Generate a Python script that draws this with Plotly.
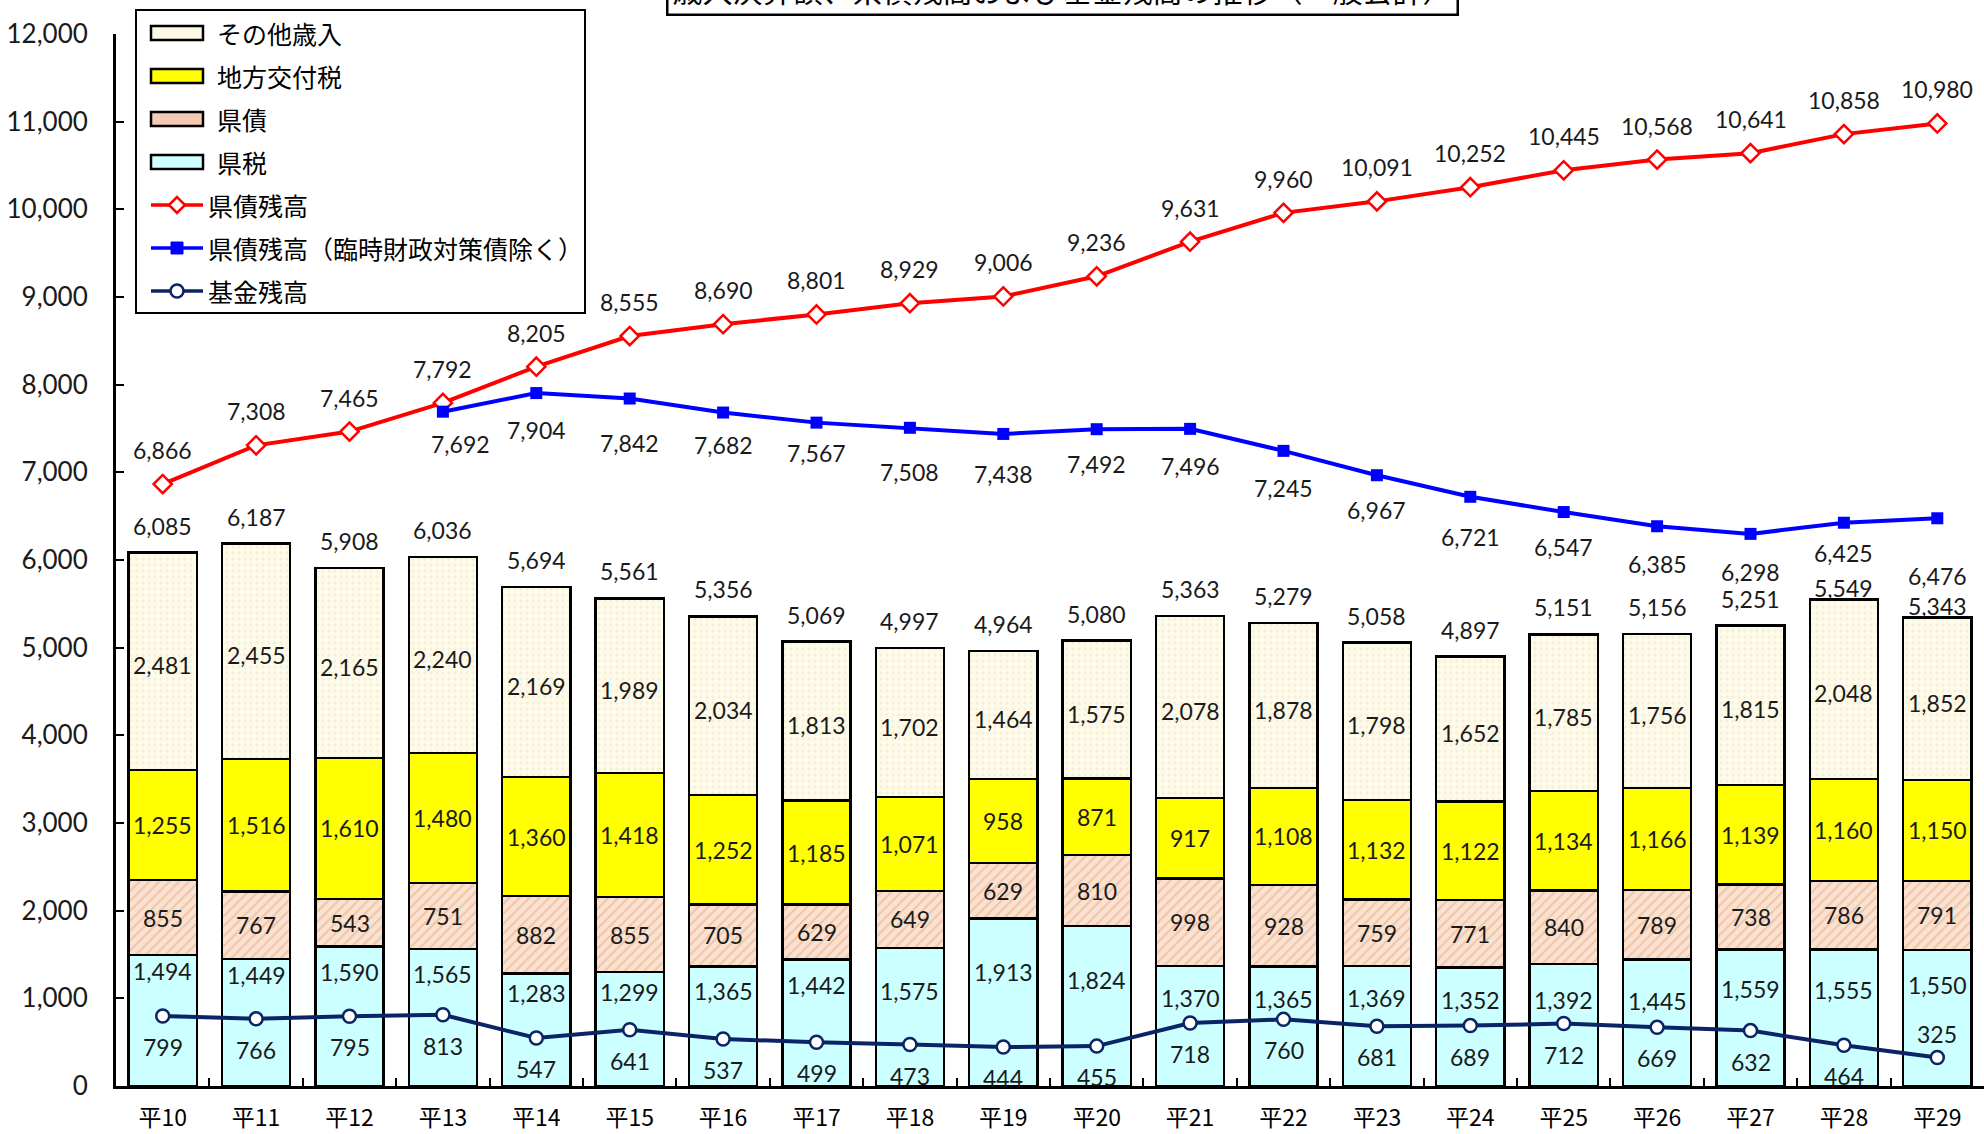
import plotly.graph_objects as go

# 年度
years = ["平10", "平11", "平12", "平13", "平14", "平15", "平16", "平17", "平18", "平19",
         "平20", "平21", "平22", "平23", "平24", "平25", "平26", "平27", "平28", "平29"]

# 歳入決算額の内訳（億円）
kenzei = [1494, 1449, 1590, 1565, 1283, 1299, 1365, 1442, 1575, 1913,
          1824, 1370, 1365, 1369, 1352, 1392, 1445, 1559, 1555, 1550]
kensai = [855, 767, 543, 751, 882, 855, 705, 629, 649, 629,
          810, 998, 928, 759, 771, 840, 789, 738, 786, 791]
koufuzei = [1255, 1516, 1610, 1480, 1360, 1418, 1252, 1185, 1071, 958,
            871, 917, 1108, 1132, 1122, 1134, 1166, 1139, 1160, 1150]
sonota = [2481, 2455, 2165, 2240, 2169, 1989, 2034, 1813, 1702, 1464,
          1575, 2078, 1878, 1798, 1652, 1785, 1756, 1815, 2048, 1852]

# 県債残高
debt = [6866, 7308, 7465, 7792, 8205, 8555, 8690, 8801, 8929, 9006,
        9236, 9631, 9960, 10091, 10252, 10445, 10568, 10641, 10858, 10980]
# 県債残高（臨時財政対策債除く）: 平13〜
debt_ex_years = years[3:]
debt_ex = [7692, 7904, 7842, 7682, 7567, 7508, 7438, 7492, 7496, 7245,
           6967, 6721, 6547, 6385, 6298, 6425, 6476]
# 基金残高
fund = [799, 766, 795, 813, 547, 641, 537, 499, 473, 444,
        455, 718, 760, 681, 689, 712, 669, 632, 464, 325]

# label offsets (px) below the blue markers
debt_ex_label_dy = [32, 37, 44, 32, 30, 44, 40, 35, 37, 37, 35, 40, 35, 38, 38, 30, 58]
# label offsets (px) below the top of the 県税 segment
kenzei_label_dy = [16, 16, 25, 25, 19, 20, 25, 25, 43, 54,
                   54, 32, 33, 32, 33, 36, 42, 40, 40, 35]
# label offsets (px) above the stacked totals
total_label_dy = [27, 27, 27, 27, 27, 27, 27, 27, 27, 27,
                  27, 27, 27, 27, 27, 27, 27, 27, 12, 12]

NUM_FONT = "Lato"
JP_FONT = "Noto Sans CJK JP"
W, H = 1984, 1134
L, R, T, B = 116, 0, 34, 48
PW, PH = W - L - R, H - T - B


def px(x):
    return (x - L) / PW


def py(y):
    return (H - B - y) / PH


fig = go.Figure()

bar_line = dict(color="black", width=2.5)
fig.add_trace(go.Bar(x=years, y=kenzei, name="県税",
                     marker=dict(color="#ccffff", line=bar_line)))
fig.add_trace(go.Bar(x=years, y=kensai, name="県債",
                     marker=dict(color="#fbe2d0", line=bar_line,
                                 pattern=dict(shape="/", fgcolor="#e2a783", bgcolor="#fbe2d0",
                                              size=7, solidity=0.3))))
fig.add_trace(go.Bar(x=years, y=koufuzei, name="地方交付税",
                     marker=dict(color="#ffff00", line=bar_line)))
fig.add_trace(go.Bar(x=years, y=sonota, name="その他歳入",
                     marker=dict(color="#fefbea", line=bar_line,
                                 pattern=dict(shape=".", fgcolor="#efe6c6", bgcolor="#fefbea",
                                              size=6, solidity=0.25))))

fig.add_trace(go.Scatter(x=years, y=debt, name="県債残高", mode="lines+markers",
                         line=dict(color="#ff0000", width=4),
                         marker=dict(symbol="diamond", size=14, color="white",
                                     line=dict(color="#ff0000", width=2.5))))
fig.add_trace(go.Scatter(x=debt_ex_years, y=debt_ex, name="県債残高（臨時財政対策債除く）",
                         mode="lines+markers",
                         line=dict(color="#0000ff", width=4),
                         marker=dict(symbol="square", size=12, color="#0000ff")))
fig.add_trace(go.Scatter(x=years, y=fund, name="基金残高", mode="lines+markers",
                         line=dict(color="#0b2465", width=4),
                         marker=dict(symbol="circle", size=13, color="white",
                                     line=dict(color="#0b2465", width=2.5))))

ann = []
lab_font = dict(family=NUM_FONT, size=23, color="#1a1a1a")


def lab(x, y, v, dy=0, dx=0):
    ann.append(dict(x=x, y=y, xref="x", yref="y", text=f"{v:,}", showarrow=False,
                    font=lab_font, yshift=dy, xshift=dx))


for i, yr in enumerate(years):
    b1 = kenzei[i]
    b2 = b1 + kensai[i]
    b3 = b2 + koufuzei[i]
    total = b3 + sonota[i]
    lab(yr, b1, kenzei[i], dy=-kenzei_label_dy[i])
    lab(yr, b1 + kensai[i] / 2, kensai[i])
    lab(yr, b2 + koufuzei[i] / 2, koufuzei[i])
    lab(yr, b3 + sonota[i] / 2, sonota[i], dy=-4)
    lab(yr, total, total, dy=total_label_dy[i])
    lab(yr, debt[i], debt[i], dy=34)
    if i == len(years) - 1:
        lab(yr, fund[i], fund[i], dy=24)
    else:
        lab(yr, fund[i], fund[i], dy=-31)

for j, yr in enumerate(debt_ex_years):
    lab(yr, debt_ex[j], debt_ex[j], dy=-debt_ex_label_dy[j], dx=18 if j == 0 else 0)

# title box, partly above the page edge
ann.append(dict(x=px(1062), y=py(16), xref="paper", yref="paper", xanchor="center",
                yanchor="bottom", showarrow=False,
                text="歳入決算額、県債残高および基金残高の推移（一般会計）",
                font=dict(family=JP_FONT, size=30, color="black"),
                bordercolor="black", borderwidth=2.5, borderpad=2, bgcolor="white",
                width=784, height=46))

# legend drawn by hand
shapes = []
shapes.append(dict(type="rect", xref="paper", yref="paper", x0=px(136), x1=px(585),
                   y0=py(313), y1=py(10), line=dict(color="black", width=2),
                   fillcolor="white", layer="above"))
rows = [33, 76, 119, 162, 205, 248, 291]
bar_items = [("その他歳入", "#fdf8e6"), ("地方交付税", "#ffff00"),
             ("県債", "#f4cbb2"), ("県税", "#ccffff")]
leg_font = dict(family=JP_FONT, size=25, color="black")
for (name, col), ry in zip(bar_items, rows[:4]):
    shapes.append(dict(type="rect", xref="paper", yref="paper", x0=px(151), x1=px(203),
                       y0=py(ry + 7), y1=py(ry - 7), line=dict(color="black", width=2.5),
                       fillcolor=col, layer="above"))
    ann.append(dict(x=px(215), y=py(ry), xref="paper", yref="paper", xanchor="left",
                    yanchor="middle", showarrow=False, text=name, font=leg_font))

line_items = [("県債残高", "#ff0000", "diamond"),
              ("県債残高（臨時財政対策債除く）", "#0000ff", "square"),
              ("基金残高", "#0b2465", "circle")]
for (name, col, sym), ry in zip(line_items, rows[4:]):
    shapes.append(dict(type="line", xref="paper", yref="paper", x0=px(151), x1=px(203),
                       y0=py(ry), y1=py(ry), line=dict(color=col, width=3.5), layer="above"))
    cx = 177
    if sym == "diamond":
        d = 8
        path = (f"M{px(cx - d)},{py(ry)} L{px(cx)},{py(ry - d)} L{px(cx + d)},{py(ry)} "
                f"L{px(cx)},{py(ry + d)} Z")
        shapes.append(dict(type="path", xref="paper", yref="paper", path=path,
                           fillcolor="white", line=dict(color=col, width=2.5), layer="above"))
    elif sym == "square":
        d = 6
        shapes.append(dict(type="rect", xref="paper", yref="paper", x0=px(cx - d), x1=px(cx + d),
                           y0=py(ry + d), y1=py(ry - d), fillcolor=col,
                           line=dict(color=col, width=1), layer="above"))
    else:
        d = 6.5
        shapes.append(dict(type="circle", xref="paper", yref="paper", x0=px(cx - d), x1=px(cx + d),
                           y0=py(ry + d), y1=py(ry - d), fillcolor="white",
                           line=dict(color=col, width=2.5), layer="above"))
    ann.append(dict(x=px(206), y=py(ry), xref="paper", yref="paper", xanchor="left",
                    yanchor="middle", showarrow=False, text=name, font=leg_font))

fig.update_layout(
    width=W, height=H,
    margin=dict(l=L, r=R, t=T, b=B, autoexpand=False),
    barmode="stack", bargap=0.27,
    plot_bgcolor="white", paper_bgcolor="white",
    showlegend=False,
    annotations=ann, shapes=shapes,
    xaxis=dict(type="category", range=[-0.5, 19.5], showline=True, linecolor="black",
               linewidth=3, ticks="inside", tickson="boundaries", ticklen=8, tickwidth=2,
               tickcolor="black", ticklabelstandoff=9,
               tickfont=dict(family=JP_FONT, size=23, color="black"), showgrid=False,
               fixedrange=True),
    yaxis=dict(range=[0, 12000], dtick=1000, tickformat=",", showline=True,
               linecolor="black", linewidth=3, ticks="inside", ticklen=8, tickwidth=2,
               tickcolor="black", ticklabelstandoff=20,
               tickfont=dict(family=NUM_FONT, size=26, color="#1a1a1a"),
               showgrid=False, zeroline=False, fixedrange=True),
)

fig.write_html("out.html", config={"displayModeBar": False})
